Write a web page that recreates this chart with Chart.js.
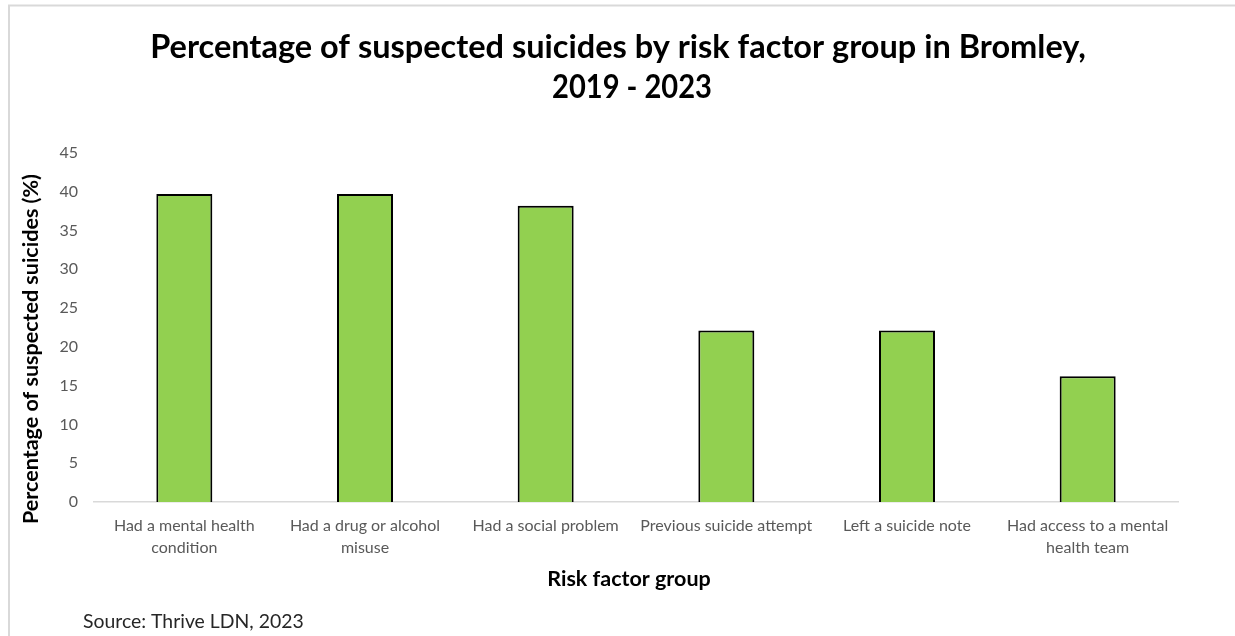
<!DOCTYPE html>
<html>
<head>
<meta charset="utf-8">
<script src="https://cdn.jsdelivr.net/npm/chart.js@4.4.1/dist/chart.umd.min.js"></script>
<style>
  html, body { margin: 0; padding: 0; background: #fff; }
  #wrap { position: relative; width: 1235px; height: 636px; }
</style>
</head>
<body>
<div id="wrap"><canvas id="c" width="1235" height="636"></canvas></div>
<script>
const categories = [
  ["Had a mental health", "condition"],
  ["Had a drug or alcohol", "misuse"],
  ["Had a social problem"],
  ["Previous suicide attempt"],
  ["Left a suicide note"],
  ["Had access to a mental", "health team"]
];
const percentages = [39.7, 39.7, 38.2, 22.1, 22.1, 16.2];
const yTicks = [0, 5, 10, 15, 20, 25, 30, 35, 40, 45];
const titleLines = ["Percentage of suspected suicides by risk factor group in Bromley,", "2019 - 2023"];
const yAxisTitle = "Percentage of suspected suicides (%)";
const xAxisTitle = "Risk factor group";
const sourceText = "Source: Thrive LDN, 2023";

const FONT = "Lato, 'Open Sans', sans-serif";

const decor = {
  id: 'decor',
  beforeDraw(chart) {
    const ctx = chart.ctx;
    ctx.save();
    ctx.fillStyle = '#ffffff';
    ctx.fillRect(0, 0, chart.width, chart.height);
    ctx.strokeStyle = '#d9d9d9';
    ctx.lineWidth = 2;
    ctx.beginPath();
    ctx.moveTo(9, 636);
    ctx.lineTo(9, 5.5);
    ctx.lineTo(1235, 5.5);
    ctx.stroke();
    ctx.restore();
  },
  afterDraw(chart) {
    const ctx = chart.ctx;
    ctx.save();
    ctx.fillStyle = '#000000';
    ctx.textBaseline = 'middle';
    ctx.textAlign = 'center';
    ctx.font = "bold 32.5px " + FONT;
    ctx.fillText(titleLines[0], 618, 48);
    ctx.fillText(titleLines[1], 632, 88, 160);

    ctx.font = "bold 21.5px " + FONT;
    ctx.fillText(xAxisTitle, 629, 579);

    ctx.save();
    ctx.translate(31, 349);
    ctx.rotate(-Math.PI / 2);
    ctx.fillText(yAxisTitle, 0, 0);
    ctx.restore();

    ctx.textAlign = 'left';
    ctx.fillStyle = '#262626';
    ctx.font = "19.4px " + FONT;
    ctx.fillText(sourceText, 83, 622);
    ctx.restore();
  }
};

new Chart(document.getElementById('c'), {
  type: 'bar',
  data: {
    labels: categories,
    datasets: [{
      data: percentages,
      backgroundColor: '#92D050',
      borderColor: '#000000',
      borderWidth: 2,
      barPercentage: 0.31,
      categoryPercentage: 1.0
    }]
  },
  options: {
    responsive: false,
    animation: false,
    devicePixelRatio: 1,
    layout: { padding: { top: 153, left: 0, right: 57, bottom: 0 } },
    plugins: {
      legend: { display: false },
      title: { display: false },
      tooltip: { enabled: false }
    },
    scales: {
      x: {
        offset: true,
        grid: { display: false, drawTicks: false },
        border: { display: true, color: '#d9d9d9', width: 1.5 },
        ticks: {
          color: '#595959',
          font: { family: FONT, size: 16, lineHeight: '22px' },
          padding: 13,
          maxRotation: 0,
          autoSkip: false
        },
        afterFit(scale) { scale.height = 134; }
      },
      y: {
        min: 0,
        max: 45,
        afterBuildTicks(scale) { scale.ticks = yTicks.map(v => ({ value: v })); },
        grid: { display: false, drawTicks: false },
        border: { display: false },
        ticks: {
          color: '#595959',
          font: { family: FONT, size: 16 },
          padding: 16
        },
        afterFit(scale) { scale.width = 94; }
      }
    }
  },
  plugins: [decor]
});
</script>
</body>
</html>
